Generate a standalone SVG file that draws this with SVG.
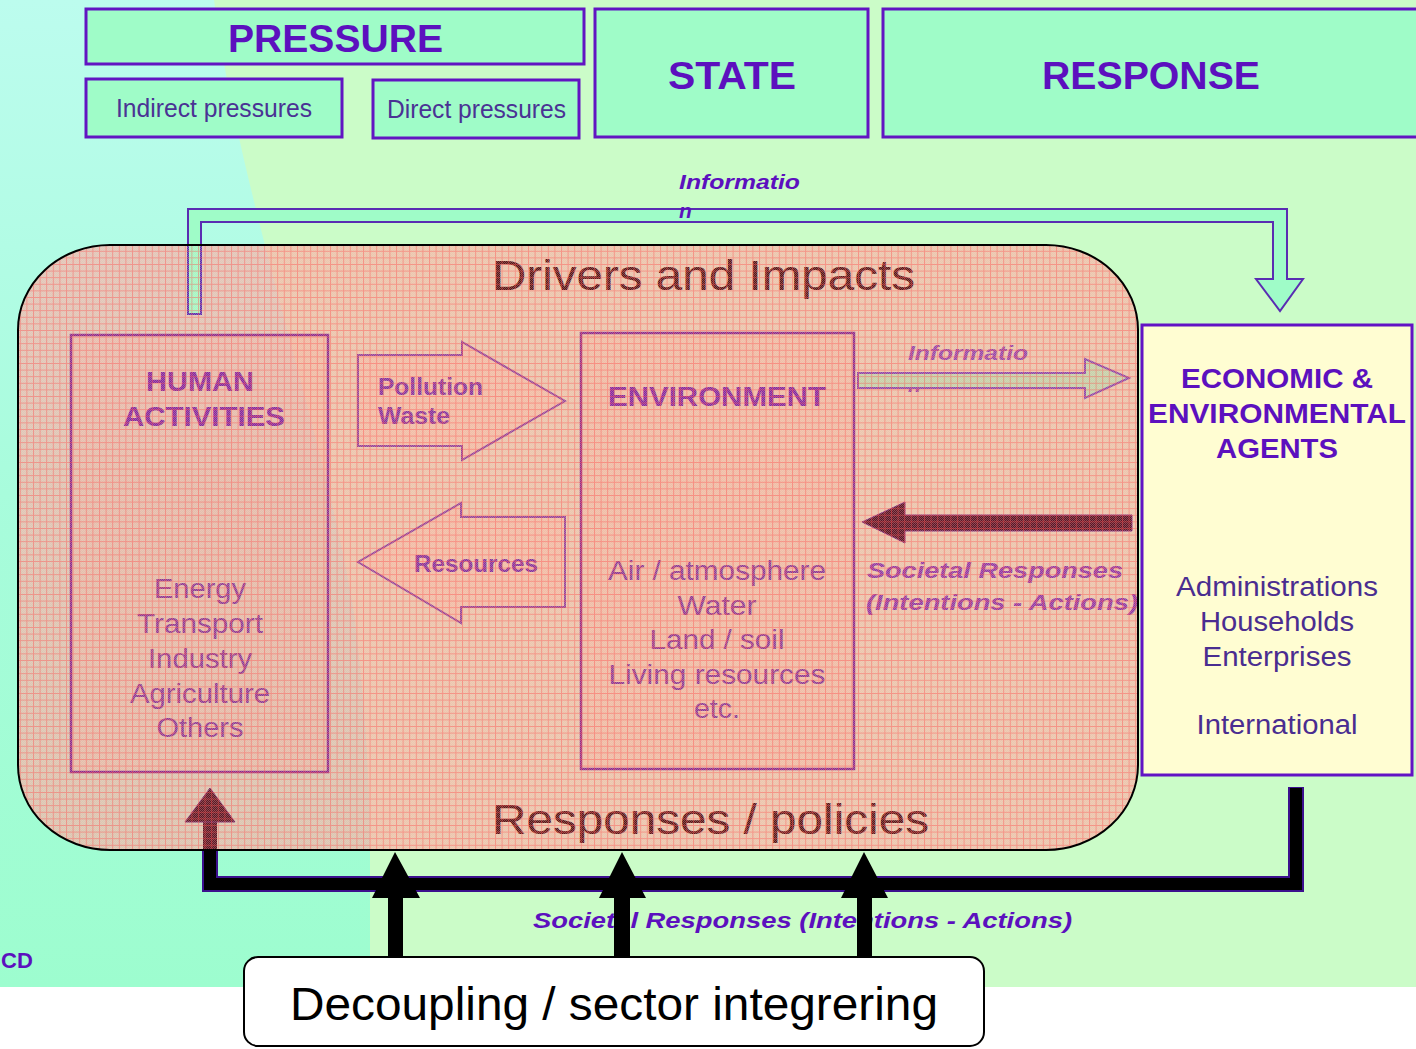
<svg xmlns="http://www.w3.org/2000/svg" width="1416" height="1049" viewBox="0 0 1416 1049">
  <style>
    text { font-family: "Liberation Sans", Arial, sans-serif; }
    .b { font-weight: bold; }
    .bi { font-weight: bold; font-style: italic; }
    .hdr { fill: #9ffcc8; stroke: #6214c2; stroke-width: 3; }
    .hdrT { fill: #5c10be; font-weight: bold; font-size: 38px; text-anchor: middle; }
    .subT { fill: #4a3294; font-size: 25px; text-anchor: middle; }
    .inBox { fill: #ffa090; fill-opacity: 0.22; stroke: #8a2a8e; stroke-width: 2.5; }
    .inBold { fill: #8226a0; font-weight: bold; font-size: 27px; text-anchor: middle; }
    .inReg { fill: #8a3896; font-size: 27px; text-anchor: middle; }
    .flow { fill: #ffa898; fill-opacity: 0.3; stroke: #94449c; stroke-width: 2; }
    .flowT { fill: #8230a0; font-weight: bold; font-size: 23px; }
    .agB { fill: #5c10be; font-weight: bold; font-size: 27px; text-anchor: middle; }
    .agR { fill: #4a2d90; font-size: 27px; text-anchor: middle; }
    .up { fill: #000; }
  </style>
  <defs>
    <linearGradient id="leftBg" x1="0" y1="0" x2="0" y2="1">
      <stop offset="0" stop-color="#bcfcee"/>
      <stop offset="0.5" stop-color="#a8fcdc"/>
      <stop offset="1" stop-color="#9dfdcf"/>
    </linearGradient>
    <pattern id="grid" width="6.6" height="6.6" patternUnits="userSpaceOnUse">
      <path d="M0,0.5 H6.6 M0.5,0 V6.6" stroke="#ff4a4a" stroke-width="1" fill="none"/>
    </pattern>
    <pattern id="dither" width="2" height="2" patternUnits="userSpaceOnUse">
      <rect x="0" y="0" width="1" height="1" fill="#ffd8c0"/>
      <rect x="1" y="1" width="1" height="1" fill="#ffd8c0"/>
    </pattern>
  </defs>

  <!-- backdrop -->
  <rect x="0" y="0" width="1416" height="1049" fill="#ffffff"/>
  <rect x="0" y="0" width="1416" height="987" fill="#cbfcc8"/>
  <path d="M0,0 H214 C240,200 330,450 355,620 C367,720 370,800 370,850 V987 H0 Z" fill="url(#leftBg)"/>

  <!-- PSR header -->
  <g id="pressure">
    <rect class="hdr" x="86" y="9" width="498" height="55"/>
    <text class="hdrT" x="335.5" y="52" textLength="215" lengthAdjust="spacingAndGlyphs">PRESSURE</text>
  </g>
  <g id="indirect-pressures">
    <rect class="hdr" x="86" y="79" width="256" height="58"/>
    <text class="subT" x="214" y="117" textLength="196" lengthAdjust="spacingAndGlyphs">Indirect pressures</text>
  </g>
  <g id="direct-pressures">
    <rect class="hdr" x="373" y="80" width="206" height="58"/>
    <text class="subT" x="476.5" y="118" textLength="179" lengthAdjust="spacingAndGlyphs">Direct pressures</text>
  </g>
  <g id="state">
    <rect class="hdr" x="595" y="9" width="273" height="128"/>
    <text class="hdrT" x="732" y="89" textLength="128" lengthAdjust="spacingAndGlyphs">STATE</text>
  </g>
  <g id="response">
    <rect class="hdr" x="883" y="9" width="540" height="128"/>
    <text class="hdrT" x="1151" y="89" textLength="218" lengthAdjust="spacingAndGlyphs">RESPONSE</text>
  </g>

  <!-- drivers and impacts panel -->
  <g id="drivers-impacts">
    <rect x="18" y="245" width="1120" height="605" rx="92" ry="85" fill="#ffa4a0" fill-opacity="0.6"/>
  </g>

  <g id="connectors">
    <!-- information flow from human activities to the agents -->
    <path d="M188,314 V209 H1287 V279 H1303 L1280,311 L1256,279 H1273 V222 H201 V314 Z" fill="#9ffcc8" stroke="#5a2cb2" stroke-width="2"/>
    <text class="bi" x="679" y="189" font-size="21" fill="#5c10be" textLength="121" lengthAdjust="spacingAndGlyphs">Informatio</text>
    <text class="bi" x="679" y="218" font-size="21" fill="#5c10be">n</text>

    <!-- information flow from the environment to the agents -->
    <text class="bi" x="908" y="360" font-size="21" fill="#9444ac" textLength="120" lengthAdjust="spacingAndGlyphs">Informatio</text>
    <text class="bi" x="908" y="392" font-size="21" fill="#9444ac">n</text>
    <path d="M858,373 H1085 V359 L1129,378 L1085,398 V388 H858 Z" fill="#c3d4ae" stroke="#8c48ac" stroke-width="2"/>

    <!-- societal responses acting on the environment -->
    <polygon points="1132,515 905,515 905,502 862,522 905,543 905,531 1132,531" fill="#5a1226" stroke="#7a2a7a" stroke-width="1"/>
    <text class="bi" x="867" y="578" font-size="22" fill="#8e36a6" textLength="256" lengthAdjust="spacingAndGlyphs">Societal Responses</text>
    <text class="bi" x="866" y="610" font-size="22" fill="#8e36a6" textLength="272" lengthAdjust="spacingAndGlyphs">(Intentions - Actions)</text>

    <!-- societal responses feeding back to human activities (inner part) -->
    <rect x="203" y="820" width="14" height="31" fill="#5c1424"/>
    <polygon points="185,822 235,822 210,788" fill="#5c1424" stroke="#7a2a6a" stroke-width="1"/>
  </g>

  <g id="human-activities">
    <rect class="inBox" x="71" y="335" width="257" height="437"/>
    <text class="inBold" x="200" y="391" textLength="108" lengthAdjust="spacingAndGlyphs">HUMAN</text>
    <text class="inBold" x="204" y="426" textLength="162" lengthAdjust="spacingAndGlyphs">ACTIVITIES</text>
    <text class="inReg" x="200" y="598" textLength="92" lengthAdjust="spacingAndGlyphs">Energy</text>
    <text class="inReg" x="200" y="633" textLength="126" lengthAdjust="spacingAndGlyphs">Transport</text>
    <text class="inReg" x="200" y="668" textLength="104" lengthAdjust="spacingAndGlyphs">Industry</text>
    <text class="inReg" x="200" y="703" textLength="140" lengthAdjust="spacingAndGlyphs">Agriculture</text>
    <text class="inReg" x="200" y="737" textLength="87" lengthAdjust="spacingAndGlyphs">Others</text>
  </g>

  <g id="pollution-waste">
    <path class="flow" d="M358,355 H462 V342 L565,401 L462,460 V446 H358 Z"/>
    <text class="flowT" x="378" y="395" textLength="105" lengthAdjust="spacingAndGlyphs">Pollution</text>
    <text class="flowT" x="378" y="424" textLength="72" lengthAdjust="spacingAndGlyphs">Waste</text>
  </g>

  <g id="resources">
    <path class="flow" d="M565,517 H461 V503 L358,562 L461,623 V607 H565 Z"/>
    <text class="flowT" x="414" y="572" textLength="124" lengthAdjust="spacingAndGlyphs">Resources</text>
  </g>

  <g id="environment">
    <rect class="inBox" x="581" y="333" width="273" height="436"/>
    <text class="inBold" x="717" y="406" textLength="218" lengthAdjust="spacingAndGlyphs">ENVIRONMENT</text>
    <text class="inReg" x="717" y="580" textLength="218" lengthAdjust="spacingAndGlyphs">Air / atmosphere</text>
    <text class="inReg" x="717" y="615" textLength="79" lengthAdjust="spacingAndGlyphs">Water</text>
    <text class="inReg" x="717" y="649" textLength="135" lengthAdjust="spacingAndGlyphs">Land / soil</text>
    <text class="inReg" x="717" y="684" textLength="217" lengthAdjust="spacingAndGlyphs">Living resources</text>
    <text class="inReg" x="717" y="718" textLength="46" lengthAdjust="spacingAndGlyphs">etc.</text>
  </g>

  <g id="panel-titles">
    <text x="703.5" y="290" font-size="43" fill="#561418" text-anchor="middle" textLength="423" lengthAdjust="spacingAndGlyphs">Drivers and Impacts</text>
    <text x="710.5" y="834" font-size="43" fill="#561418" text-anchor="middle" textLength="437" lengthAdjust="spacingAndGlyphs">Responses / policies</text>
  </g>

  <!-- hatching over the panel and its outline -->
  <rect x="18" y="245" width="1120" height="605" rx="92" ry="85" fill="url(#dither)" opacity="0.3"/>
  <rect x="18" y="245" width="1120" height="605" rx="92" ry="85" fill="url(#grid)" opacity="0.42"/>
  <rect x="18" y="245" width="1120" height="605" rx="92" ry="85" fill="none" stroke="#000" stroke-width="2"/>

  <g id="agents">
    <rect x="1142" y="325" width="270" height="450" fill="#fffdd2" stroke="#6212c4" stroke-width="3"/>
    <text class="agB" x="1277" y="388" textLength="192" lengthAdjust="spacingAndGlyphs">ECONOMIC &amp;</text>
    <text class="agB" x="1277" y="423" textLength="258" lengthAdjust="spacingAndGlyphs">ENVIRONMENTAL</text>
    <text class="agB" x="1277" y="458" textLength="122" lengthAdjust="spacingAndGlyphs">AGENTS</text>
    <text class="agR" x="1277" y="596" textLength="202" lengthAdjust="spacingAndGlyphs">Administrations</text>
    <text class="agR" x="1277" y="631" textLength="154" lengthAdjust="spacingAndGlyphs">Households</text>
    <text class="agR" x="1277" y="666" textLength="149" lengthAdjust="spacingAndGlyphs">Enterprises</text>
    <text class="agR" x="1277" y="734" textLength="161" lengthAdjust="spacingAndGlyphs">International</text>
  </g>

  <g id="feedback">
    <!-- societal responses loop back from the agents to human activities -->
    <path d="M1296,787 V884 H210 V851" fill="none" stroke="#3c108e" stroke-width="16"/>
    <path d="M1296,788 V884 H210 V851" fill="none" stroke="#000" stroke-width="12"/>
    <text class="bi" x="533" y="928" font-size="22" fill="#5c10be" textLength="539" lengthAdjust="spacingAndGlyphs">Societal Responses (Intentions - Actions)</text>
    <text class="b" x="1" y="968" font-size="22" fill="#5c10be">CD</text>
  </g>

  <g id="decoupling-arrows">
    <path class="up" d="M388,960 V898 H372 L395,852 L420,898 H403 V960 Z"/>
    <path class="up" d="M614,960 V898 H599 L622,852 L646,898 H630 V960 Z"/>
    <path class="up" d="M857,960 V898 H841 L864,852 L888,898 H872 V960 Z"/>
  </g>

  <g id="decoupling">
    <rect x="244" y="957" width="740" height="89" rx="14" ry="14" fill="#ffffff" stroke="#000" stroke-width="2"/>
    <text x="614" y="1020" font-size="46" fill="#000" text-anchor="middle" textLength="648" lengthAdjust="spacingAndGlyphs">Decoupling / sector integrering</text>
  </g>
</svg>
